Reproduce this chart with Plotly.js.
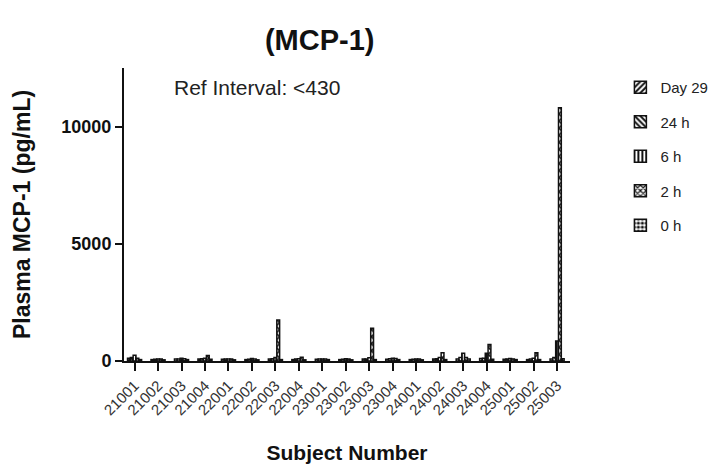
<!DOCTYPE html>
<html>
<head>
<meta charset="utf-8">
<script src="https://cdn.plot.ly/plotly-3.0.1.min.js"></script>
<style>html,body{margin:0;padding:0;background:#fff;}#chart{width:725px;height:466px;}</style>
</head>
<body>
<div id="chart"></div>
<script>
const subjects = ["21001","21002","21003","21004","22001","22002","22003","22004","23001","23002","23003","23004","24001","24002","24003","24004","25001","25002","25003"];
const day29 = [120, 60, 80, 90, 70, 60, 80, 60, 70, 60, 80, 70, 60, 80, 90, 110, 70, 60, 90];
const h24   = [150, 70, 90, 100, 80, 70, 100, 80, 80, 70, 90, 100, 70, 100, 150, 120, 90, 80, 150];
const h6    = [250, 90, 120, 120, 90, 110, 150, 100, 90, 100, 140, 120, 80, 150, 330, 330, 110, 120, 850];
const h2    = [120, 80, 100, 230, 80, 90, 1750, 160, 80, 90, 1400, 110, 80, 350, 150, 700, 90, 350, 10800];
const h0    = [60, 50, 60, 70, 50, 50, 60, 50, 60, 50, 60, 60, 50, 60, 80, 70, 60, 60, 100];
const seriesNames = ["Day 29", "24 h", "6 h", "2 h", "0 h"];
const seriesValues = [day29, h24, h6, h2, h0];
const patterns = ["/", "\\", "|", "x", "."];

const traces = seriesValues.map((vals, i) => ({
  type: "bar",
  name: seriesNames[i],
  x: subjects,
  y: vals,
  legendgroup: "g" + i,
  marker: {
    color: "#ffffff",
    line: {color: "#111", width: 1.5},
    pattern: {shape: patterns[i], fgcolor: "#111", bgcolor: "#fff", size: 5, solidity: 0.5}
  }
}));

const layout = {
  width: 725, height: 466,
  margin: {l: 124, r: 132, t: 68, b: 105},
  paper_bgcolor: "#fff", plot_bgcolor: "#fff",
  font: {family: "Liberation Sans, Arial, sans-serif", color: "#111"},
  barmode: "group",
  bargap: 0.4,
  bargroupgap: 0,
  showlegend: true,
  title: {text: "<b>(MCP-1)</b>", x: 0.441, xanchor: "center", y: 0.915, yanchor: "middle", xref: "container", font: {size: 29, color: "#111"}},
  xaxis: {
    type: "category",
    range: [-0.45, 18.55],
    tickangle: -45,
    tickfont: {size: 15, color: "#333"},
    ticks: "outside", ticklen: 8, tickwidth: 2, tickcolor: "#111",
    showline: true, linecolor: "#111", linewidth: 2,
    showgrid: false, zeroline: false,
    title: {text: "<b>Subject Number</b>", font: {size: 21, color: "#111"}, standoff: 28}
  },
  yaxis: {
    range: [0, 12500],
    tickvals: [0, 5000, 10000],
    ticktext: ["<b>0</b>", "<b>5000</b>", "<b>10000</b>"],
    tickfont: {size: 18, color: "#111"},
    ticks: "outside", ticklen: 7, tickwidth: 2, tickcolor: "#111",
    showline: true, linecolor: "#111", linewidth: 2,
    showgrid: false, zeroline: false,
    title: {text: "<b>Plasma MCP-1 (pg/mL)</b>", font: {size: 23, color: "#111"}, standoff: 24}
  },
  legend: {
    x: 1.113, xanchor: "left", y: 0.99, yanchor: "top",
    traceorder: "grouped", tracegroupgap: 12,
    font: {size: 15, color: "#222"},
    bgcolor: "rgba(0,0,0,0)"
  },
  annotations: [{
    text: "Ref Interval: <430",
    xref: "paper", yref: "paper", x: 0.107, y: 0.932,
    xanchor: "left", yanchor: "middle", showarrow: false,
    font: {size: 21, color: "#222"}
  }]
};

Plotly.newPlot("chart", traces, layout, {displayModeBar: false, staticPlot: true});
</script>
</body>
</html>
